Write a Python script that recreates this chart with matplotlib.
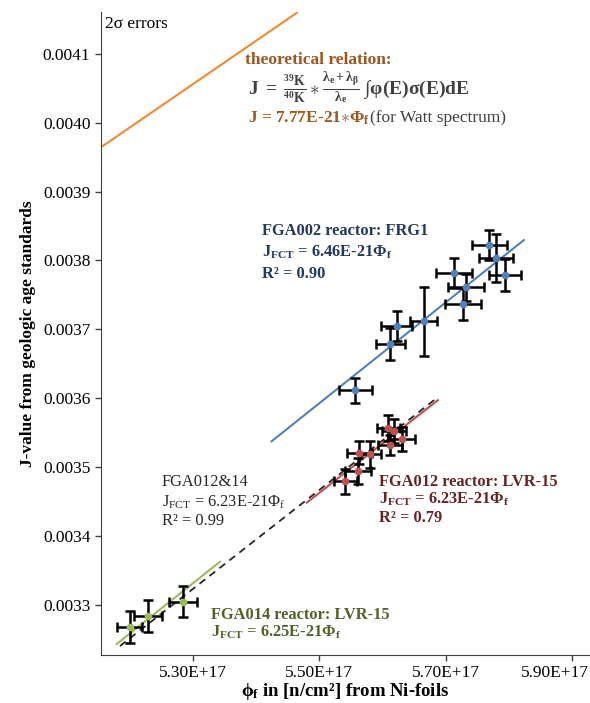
import matplotlib
matplotlib.use("Agg")
import matplotlib.pyplot as plt
from matplotlib.ticker import FuncFormatter, FixedLocator, MultipleLocator
from matplotlib.transforms import ScaledTranslation
import numpy as np

plt.rcParams['font.family'] = ['Liberation Serif', 'DejaVu Serif']
plt.rcParams['mathtext.fontset'] = 'custom'
plt.rcParams['mathtext.rm'] = 'Liberation Serif'
plt.rcParams['mathtext.it'] = 'Liberation Serif:italic'
plt.rcParams['mathtext.bf'] = 'Liberation Serif:bold'

E17 = 1e17

# FGA002 reactor FRG1 (blue)
frg_phi = np.array([5.769, 5.780, 5.794, 5.713, 5.732, 5.727, 5.665, 5.622, 5.612, 5.557]) * E17
frg_phi_err = np.array([0.027, 0.027, 0.025, 0.028, 0.028, 0.028, 0.021, 0.025, 0.023, 0.026]) * E17
frg_j = [0.0038226, 0.0038031, 0.0037783, 0.0037822, 0.0037608, 0.0037370,
         0.0037118, 0.0037050, 0.0036787, 0.0036112]
frg_j_err = [0.0000219, 0.0000350, 0.0000233, 0.0000219, 0.0000190, 0.0000233,
             0.0000503, 0.0000219, 0.0000226, 0.0000175]

# FGA012 reactor LVR-15 (red)
lvr12_phi = np.array([5.609, 5.618, 5.630, 5.612, 5.563, 5.580, 5.561, 5.541]) * E17
lvr12_phi_err = np.array([0.018, 0.019, 0.022, 0.019, 0.020, 0.017, 0.021, 0.018]) * E17
lvr12_j = [0.0035563, 0.0035519, 0.0035413, 0.0035319, 0.0035208, 0.0035184, 0.0034946, 0.0034794]
lvr12_j_err = [0.0000190, 0.0000175, 0.0000175, 0.0000146, 0.0000170, 0.0000194, 0.0000190, 0.0000180]

# FGA014 reactor LVR-15 (green)
lvr14_phi = np.array([5.200, 5.229, 5.284]) * E17
lvr14_phi_err = np.array([0.020, 0.022, 0.022]) * E17
lvr14_j = [0.0032676, 0.0032837, 0.0033045]
lvr14_j_err = [0.0000226, 0.0000238, 0.0000226]

# fit lines (start/end)
fit_frg_x = np.array([5.4244, 5.8233]) * E17
fit_frg_y = [0.0035373, 0.0038296]
fit_lvr12_x = np.array([5.4802, 5.6874]) * E17
fit_lvr12_y = [0.0034484, 0.0035971]
fit_lvr14_x = np.array([5.1794, 5.3427]) * E17
fit_lvr14_y = [0.0032429, 0.0033624]
fit_all_x = np.array([5.1846, 5.6874]) * E17
fit_all_y = [0.0032399, 0.0036015]
theory_x = np.array([5.1545, 5.4644]) * E17
theory_y = [0.0039644, 0.0041598]

x_ticks = np.array([5.30, 5.50, 5.70, 5.90]) * E17

blue, red, green, orange = '#4f81bd', '#c0504d', '#9bbb59', '#f58a2c'

fig = plt.figure(figsize=(5.9, 7.03), dpi=100)
ax = fig.add_axes([0.171, 0.0683, 0.829, 0.9147])

ax.plot(theory_x, theory_y, color=orange, lw=1.5)
ax.plot(fit_all_x, fit_all_y, color='#262626', lw=1.3, ls=(0, (4, 3)))
ax.plot(fit_frg_x, fit_frg_y, color=blue, lw=1.5)
ax.plot(fit_lvr12_x, fit_lvr12_y, color=red, lw=1.5)
ax.plot(fit_lvr14_x, fit_lvr14_y, color=green, lw=1.5)

eb = dict(fmt='o', ms=4.5, ecolor='black', elinewidth=1.8, capsize=3.5, capthick=1.8, zorder=3)
ax.errorbar(frg_phi, frg_j, xerr=frg_phi_err, yerr=frg_j_err, mfc=blue, mec=blue, **eb)
ax.errorbar(lvr12_phi, lvr12_j, xerr=lvr12_phi_err, yerr=lvr12_j_err, mfc=red, mec=red, **eb)
ax.errorbar(lvr14_phi, lvr14_j, xerr=lvr14_phi_err, yerr=lvr14_j_err, mfc=green, mec=green, **eb)

ax.set_xlim(5.1545 * E17, 5.928 * E17)
ax.set_ylim(0.003227, 0.004161)
ax.xaxis.set_major_locator(FixedLocator(x_ticks))
ax.yaxis.set_major_locator(MultipleLocator(0.0001))
ax.xaxis.set_major_formatter(FuncFormatter(lambda v, p: '%.2fE+17' % (v / E17)))
ax.yaxis.set_major_formatter(FuncFormatter(lambda v, p: '%.4f' % v))
ax.tick_params(labelsize=12.5, length=4, width=1, color='#404040')
for s in ['top', 'right']:
    ax.spines[s].set_visible(False)
for s in ['left', 'bottom']:
    ax.spines[s].set_color('#404040')

# last x tick label sits against the right edge, like the original
fig.canvas.draw()
last = ax.get_xticklabels()[-1]
last.set_horizontalalignment('right')
last.set_transform(last.get_transform() + ScaledTranslation(0.17, 0, fig.dpi_scale_trans))

ax.set_xlabel(r'ϕ$_\mathbf{f}$ in [n/cm²] from Ni-foils', fontsize=13.5, fontweight='bold', labelpad=0)
ax.set_ylabel('J-value from geologic age standards', fontsize=12.5, fontweight='bold', labelpad=5)

# annotations
ax.text(0.008, 0.994, '2σ errors', transform=ax.transAxes, fontsize=12.5, va='top')

tx = 5.3822 * E17
ax.text(tx, 0.0040910, 'theoretical relation:', color='#a0561a', fontsize=12.5, fontweight='bold', va='center')
ax.text(5.387 * E17, 0.0040500,
        r'$\mathbf{J\ =\ \frac{^{39}K}{^{40}K}}\ast\mathbf{\frac{\lambda_e+\lambda_\beta}{\lambda_e}}\ \int\mathbf{\varphi(E)\sigma(E)dE}$',
        color='#404040', fontsize=14, va='center')
ax.text(5.387 * E17, 0.0040070, r'J = 7.77E-21$\ast$Φ$_\mathbf{f}$', color='#a0561a', fontsize=12.5,
        fontweight='bold', va='center')
ax.text(5.5798 * E17, 0.0040070, '(for Watt spectrum)', color='#404040', fontsize=12.5, va='center')

navy = '#1f3864'
bx = 5.4091 * E17
ax.text(bx, 0.0038425, 'FGA002 reactor: FRG1', color=navy, fontsize=11.8, fontweight='bold', va='center')
ax.text(bx, 0.0038120, r'J$_\mathbf{FCT}$ = 6.46E-21Φ$_\mathbf{f}$', color=navy, fontsize=11.8,
        fontweight='bold', va='center')
ax.text(bx, 0.0037805, 'R² = 0.90', color=navy, fontsize=11.8, fontweight='bold', va='center')

maroon = '#632523'
rx = 5.5941 * E17
ax.text(rx, 0.0034788, 'FGA012 reactor: LVR-15', color=maroon, fontsize=11.8, fontweight='bold', va='center')
ax.text(rx, 0.0034530, r'J$_\mathbf{FCT}$ = 6.23E-21Φ$_\mathbf{f}$', color=maroon, fontsize=11.8,
        fontweight='bold', va='center')
ax.text(rx, 0.0034265, 'R² = 0.79', color=maroon, fontsize=11.8, fontweight='bold', va='center')

kx = 5.2510 * E17
ax.text(kx, 0.0034780, 'FGA012&14', color='#262626', fontsize=11.8, va='center')
ax.text(kx, 0.0034490, r'J$_\mathrm{FCT}$ = 6.23E-21Φ$_\mathrm{f}$', color='#262626', fontsize=11.8, va='center')
ax.text(kx, 0.0034210, 'R² = 0.99', color='#262626', fontsize=11.8, va='center')

olive = '#4f6228'
gx = 5.3280 * E17
ax.text(gx, 0.0032850, 'FGA014 reactor: LVR-15', color=olive, fontsize=11.8, fontweight='bold', va='center')
ax.text(gx, 0.0032603, r'J$_\mathbf{FCT}$ = 6.25E-21Φ$_\mathbf{f}$', color=olive, fontsize=11.8,
        fontweight='bold', va='center')

fig.savefig('out.png', dpi=100)
